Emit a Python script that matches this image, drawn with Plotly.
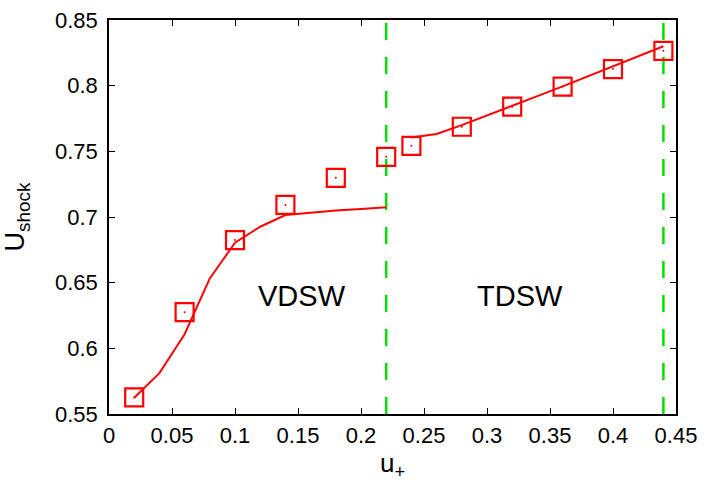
import plotly.graph_objects as go

# simulation points (squares)
u_plus = [0.02, 0.06, 0.10, 0.14, 0.18, 0.22, 0.24, 0.28, 0.32, 0.36, 0.40, 0.44]
u_shock = [0.5626, 0.6275, 0.6824, 0.7092, 0.7298, 0.7458, 0.7542, 0.7687, 0.7840, 0.7993, 0.8126, 0.8265]

# theory curve, VDSW branch
vdsw_x = [0.02, 0.04, 0.06, 0.08, 0.10, 0.12, 0.14, 0.16, 0.18, 0.20, 0.22]
vdsw_y = [0.5624, 0.5811, 0.6107, 0.6532, 0.6804, 0.6926, 0.7015, 0.7032, 0.7050, 0.7060, 0.7074]

# theory curve, TDSW branch
tdsw_x = [0.24, 0.26, 0.28, 0.30, 0.32, 0.34, 0.36, 0.38, 0.40, 0.42, 0.44]
tdsw_y = [0.7605, 0.7632, 0.7700, 0.7772, 0.7845, 0.7920, 0.7995, 0.8070, 0.8145, 0.8222, 0.8300]

# regime boundaries
bounds = [0.22, 0.44]
y_range = [0.55, 0.85]

x_ticks = [0, 0.05, 0.1, 0.15, 0.2, 0.25, 0.3, 0.35, 0.4, 0.45]
y_ticks = [0.55, 0.6, 0.65, 0.7, 0.75, 0.8, 0.85]

red = "#ff0000"
green = "#00e000"

fig = go.Figure()

for b in bounds:
    fig.add_trace(go.Scatter(x=[b, b], y=y_range, mode="lines",
                             line=dict(color=green, width=2.5, dash="17px,17px")))

fig.add_trace(go.Scatter(x=vdsw_x, y=vdsw_y, mode="lines",
                         line=dict(color=red, width=2)))
fig.add_trace(go.Scatter(x=tdsw_x, y=tdsw_y, mode="lines",
                         line=dict(color=red, width=2)))

fig.add_trace(go.Scatter(x=u_plus, y=u_shock, mode="markers",
                         marker=dict(symbol="square-open", size=18, color=red,
                                     line=dict(color=red, width=2.2))))
fig.add_trace(go.Scatter(x=u_plus, y=u_shock, mode="markers",
                         marker=dict(symbol="circle", size=2, color=red)))

fig.add_annotation(x=0.153, y=0.6397, text="VDSW", showarrow=False,
                   font=dict(size=29, color="black"))
fig.add_annotation(x=0.3265, y=0.6397, text="TDSW", showarrow=False,
                   font=dict(size=29, color="black"))

axis_style = dict(showline=True, linecolor="black", linewidth=1.5, mirror="allticks",
                  ticks="inside", ticklen=6, tickcolor="black", tickwidth=1,
                  showgrid=False, zeroline=False, automargin=False,
                  tickfont=dict(size=22, color="black"))

fig.update_xaxes(range=[0, 0.45], tickvals=x_ticks,
                 ticktext=[f"{v:g}" for v in x_ticks],
                 title=dict(text="u<sub>+</sub>", font=dict(size=26, color="black"), standoff=4),
                 ticklabelstandoff=1, **axis_style)
fig.update_yaxes(range=[y_range[0] - 1e-9, y_range[1] + 1e-9], tickvals=y_ticks,
                 ticktext=[f"{v:g}" for v in y_ticks],
                 title=dict(text="U<sub>shock</sub>", font=dict(size=27, color="black"), standoff=38),
                 ticklabelstandoff=5, **axis_style)

fig.update_layout(width=712, height=498, showlegend=False,
                  paper_bgcolor="white", plot_bgcolor="white",
                  font=dict(family="Liberation Sans, Arial, sans-serif"),
                  margin=dict(l=109, r=36, t=20, b=84))

# drop the default 8px page margin so the figure sits at the window origin
fig.write_html("out.html", config={"displayModeBar": False},
               post_script="document.body.style.margin='0';")
